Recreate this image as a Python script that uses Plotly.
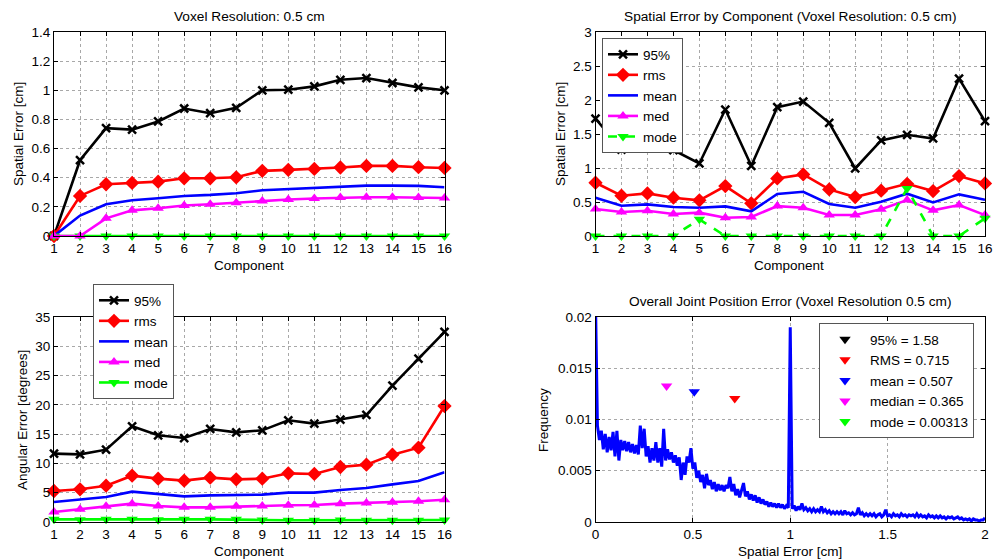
import numpy as np
import plotly.graph_objects as go

# ---------------- data ----------------
components = list(range(1, 17))

# Top-left: spatial error (cm), cumulative
tl_p95 = [0.0, 0.52, 0.74, 0.73, 0.786, 0.875, 0.843, 0.88, 1.0, 1.004, 1.027, 1.072, 1.084, 1.05, 1.02, 1.0]
tl_rms = [0.0, 0.275, 0.355, 0.364, 0.373, 0.396, 0.396, 0.403, 0.447, 0.454, 0.46, 0.47, 0.481, 0.481, 0.472, 0.467]
tl_mean = [0.0, 0.14, 0.218, 0.245, 0.259, 0.275, 0.282, 0.293, 0.314, 0.321, 0.328, 0.339, 0.346, 0.346, 0.344, 0.335]
tl_med = [0.0, 0.0, 0.121, 0.176, 0.19, 0.209, 0.218, 0.229, 0.241, 0.25, 0.257, 0.264, 0.266, 0.266, 0.264, 0.261]
tl_mode = [0.0] * 16

# Top-right: spatial error by component (cm)
tr_p95 = [1.727, 1.272, 1.321, 1.263, 1.067, 1.86, 1.033, 1.894, 1.977, 1.664, 0.993, 1.405, 1.488, 1.434, 2.315, 1.688]
tr_rms = [0.783, 0.592, 0.626, 0.563, 0.524, 0.734, 0.48, 0.847, 0.905, 0.685, 0.573, 0.666, 0.768, 0.661, 0.881, 0.773]
tr_mean = [0.563, 0.445, 0.465, 0.426, 0.416, 0.436, 0.362, 0.617, 0.651, 0.47, 0.416, 0.504, 0.622, 0.494, 0.612, 0.533]
tr_med = [0.396, 0.352, 0.372, 0.323, 0.343, 0.269, 0.279, 0.44, 0.416, 0.308, 0.308, 0.392, 0.529, 0.377, 0.455, 0.308]
tr_mode = [0.0, 0.0, 0.0, 0.0, 0.245, 0.0, 0.0, 0.0, 0.0, 0.0, 0.0, 0.0, 0.70, 0.0, 0.0, 0.26]

# Bottom-left: angular error (degrees)
bl_p95 = [11.67, 11.55, 12.35, 16.33, 14.8, 14.34, 15.88, 15.31, 15.65, 17.36, 16.79, 17.47, 18.27, 23.28, 27.89, 32.44]
bl_rms = [5.29, 5.58, 6.2, 7.91, 7.4, 7.06, 7.57, 7.28, 7.4, 8.31, 8.2, 9.39, 9.79, 11.5, 12.69, 19.8]
bl_mean = [3.41, 3.87, 4.27, 5.18, 4.72, 4.38, 4.55, 4.55, 4.67, 5.01, 5.01, 5.46, 5.8, 6.43, 7.0, 8.48]
bl_med = [1.71, 2.16, 2.67, 3.13, 2.73, 2.5, 2.5, 2.67, 2.73, 2.85, 2.9, 3.13, 3.24, 3.36, 3.53, 3.81]
bl_mode = [0.45, 0.4, 0.45, 0.45, 0.4, 0.45, 0.45, 0.45, 0.35, 0.3, 0.3, 0.35, 0.3, 0.3, 0.3, 0.35]

# Bottom-right: error distribution (bins every 0.01 cm)
hist_freq = [
    0.0215, 0.0094, 0.0080, 0.0089, 0.0071, 0.0086, 0.0068, 0.0083, 0.0070, 0.0088,
    0.0064, 0.0089, 0.0060, 0.0080, 0.0070, 0.0079, 0.0069, 0.0078, 0.0068, 0.0076,
    0.0067, 0.0075, 0.0066, 0.0094, 0.0072, 0.0091, 0.0064, 0.0074, 0.0058, 0.0072,
    0.0060, 0.0078, 0.0058, 0.0072, 0.0054, 0.0091, 0.0060, 0.0071, 0.0061, 0.0068,
    0.0058, 0.0065, 0.0055, 0.0063, 0.0041, 0.0058, 0.0046, 0.0064, 0.0058, 0.0072,
    0.0052, 0.0058, 0.0043, 0.0050, 0.0039, 0.0046, 0.0033, 0.0047, 0.0036, 0.0041,
    0.0032, 0.0039, 0.0030, 0.0037, 0.0031, 0.0036, 0.0030, 0.0036, 0.0033, 0.0044,
    0.0030, 0.0037, 0.0026, 0.0032, 0.0024, 0.0031, 0.0038, 0.0025, 0.0030, 0.0022,
    0.0027, 0.0021, 0.0026, 0.0019, 0.0024, 0.0018, 0.0022, 0.0017, 0.0020, 0.0015,
    0.0019, 0.0015, 0.0018, 0.0014, 0.0018, 0.0014, 0.0017, 0.0013, 0.0016, 0.0014,
    0.0190, 0.0013, 0.0016, 0.0011, 0.0015, 0.0012, 0.0018, 0.0012, 0.0014, 0.0011,
    0.0013, 0.0010, 0.0013, 0.0010, 0.0012, 0.0010, 0.0015, 0.0010, 0.0012, 0.0009,
    0.0011, 0.0008, 0.0010, 0.0008, 0.0010, 0.0008, 0.0010, 0.0007, 0.0011, 0.0008,
    0.0009, 0.0007, 0.0009, 0.0007, 0.0008, 0.0014, 0.0007, 0.0009, 0.0006, 0.0008,
    0.0006, 0.0008, 0.0006, 0.0008, 0.0005, 0.0007, 0.0008, 0.0005, 0.0007, 0.0012,
    0.0006, 0.0007, 0.0005, 0.0008, 0.0006, 0.0007, 0.0005, 0.0008, 0.0006, 0.0007,
    0.0005, 0.0007, 0.0006, 0.0007, 0.0005, 0.0008, 0.0005, 0.0007, 0.0005, 0.0006,
    0.0004, 0.0007, 0.0005, 0.0006, 0.0004, 0.0006, 0.0004, 0.0006, 0.0004, 0.0005,
    0.0003, 0.0005, 0.0004, 0.0005, 0.0003, 0.0004, 0.0005, 0.0003, 0.0004, 0.0002,
    0.0003, 0.0002, 0.0003, 0.0001, 0.0003, 0.0002, 0.0002, 0.0001, 0.0002, 0.0002,
    0.0004,
]
hist_x = np.round(np.arange(len(hist_freq)) * 0.01, 2)

stat_labels = ["95% = 1.58", "RMS = 0.715", "mean = 0.507", "median = 0.365", "mode = 0.00313"]
stat_x = [1.58, 0.715, 0.507, 0.365, 0.00313]
stat_y = [0.00875, 0.01206, 0.0127, 0.01326, 0.0215]
stat_colors = ["#000000", "#ff0000", "#0000ff", "#ff00ff", "#00ff00"]

series_names = ["95%", "rms", "mean", "med", "mode"]

# ---------------- figure ----------------
W, H = 995, 560
FONT = "Liberation Sans, Arial, Helvetica, sans-serif"
FS = 13.5
FS_T = 13.7

fig = go.Figure()

LW = 2.6
styles = {
    "95%": dict(color="#000000", marker=dict(symbol="x-thin-open", size=8,
                                              line=dict(color="#000000", width=2.5))),
    "rms": dict(color="#ff0000", marker=dict(symbol="diamond", size=11, color="#ff0000")),
    "mean": dict(color="#0000ff", marker=None),
    "med": dict(color="#ff00ff", marker=dict(symbol="triangle-up", size=10, color="#ff00ff")),
    "mode": dict(color="#00ff00", marker=dict(symbol="triangle-down", size=10, color="#00ff00")),
}


def add_series(name, values, xa, ya, legend=None, dash="solid", show=False):
    st = styles[name]
    mode = "lines" if st["marker"] is None else "lines+markers"
    kw = dict(x=components, y=values, name=name, mode=mode, xaxis=xa, yaxis=ya,
              line=dict(color=st["color"], width=LW, dash=dash),
              showlegend=show, cliponaxis=False)
    if st["marker"] is not None:
        kw["marker"] = st["marker"]
    if legend is not None:
        kw["legend"] = legend
    fig.add_trace(go.Scatter(**kw))


# top-left (mode drawn beneath med)
for nm, vals in [("95%", tl_p95), ("rms", tl_rms), ("mean", tl_mean), ("mode", tl_mode), ("med", tl_med)]:
    add_series(nm, vals, "x", "y")

# top-right
for nm, vals in zip(series_names, [tr_p95, tr_rms, tr_mean, tr_med, tr_mode]):
    add_series(nm, vals, "x2", "y2", legend="legend", dash="dash" if nm == "mode" else "solid", show=True)

# bottom-left
for nm, vals in zip(series_names, [bl_p95, bl_rms, bl_mean, bl_med, bl_mode]):
    add_series(nm, vals, "x3", "y3", legend="legend2", show=True)

# bottom-right histogram line
fig.add_trace(go.Scatter(x=hist_x, y=hist_freq, mode="lines", xaxis="x4", yaxis="y4",
                         line=dict(color="#0000ff", width=3), showlegend=False))
for lab, sx, sy, col in zip(stat_labels, stat_x, stat_y, stat_colors):
    fig.add_trace(go.Scatter(x=[sx], y=[sy], mode="markers", name=lab, xaxis="x4", yaxis="y4",
                             marker=dict(symbol="triangle-down", size=10, color=col),
                             showlegend=True, legend="legend3", cliponaxis=True))

# ---------------- layout ----------------
def px_x(p):
    return p / W


def px_y(p):
    return 1 - p / H


xl = [px_x(54), px_x(444.5)]
xr = [px_x(595.5), px_x(985)]
yt = [px_y(236), px_y(32)]
yb = [px_y(522), px_y(317)]

axis_common = dict(showline=True, linecolor="#000000", linewidth=1, mirror="ticks",
                   ticks="inside", ticklen=4, tickcolor="#000000", showgrid=True,
                   gridcolor="#a8a8a8", griddash="dot", gridwidth=1, zeroline=False,
                   automargin=False,
                   tickfont=dict(family=FONT, size=FS, color="#000000"))

leg_common = dict(xanchor="left", yanchor="top", bgcolor="white", bordercolor="#555555",
                  borderwidth=1, font=dict(family=FONT, size=FS), tracegroupgap=0)

layout = dict(
    width=W, height=H, margin=dict(l=0, r=0, t=0, b=0, autoexpand=False),
    paper_bgcolor="white", plot_bgcolor="white",
    font=dict(family=FONT, size=FS, color="#000000"),
    xaxis=dict(domain=xl, anchor="y", range=[1, 16], tickvals=components, **axis_common),
    yaxis=dict(domain=yt, anchor="x", range=[0, 1.4], dtick=0.2, **axis_common),
    xaxis2=dict(domain=xr, anchor="y2", range=[1, 16], tickvals=components, **axis_common),
    yaxis2=dict(domain=yt, anchor="x2", range=[0, 3], dtick=0.5, **axis_common),
    xaxis3=dict(domain=xl, anchor="y3", range=[1, 16], tickvals=components, **axis_common),
    yaxis3=dict(domain=yb, anchor="x3", range=[0, 35], dtick=5, **axis_common),
    xaxis4=dict(domain=xr, anchor="y4", range=[0, 2], dtick=0.5, **axis_common),
    yaxis4=dict(domain=yb, anchor="x4", range=[0, 0.02], dtick=0.005, **axis_common),
    legend=dict(x=px_x(602), y=px_y(38), **leg_common),
    legend2=dict(x=px_x(93), y=px_y(284), **leg_common),
    legend3=dict(x=px_x(819), y=px_y(323), itemwidth=40, **leg_common),
)

ann = []


def text(t, x, y, angle=0, size=FS):
    ann.append(dict(text=t, x=px_x(x), y=px_y(y), xref="paper", yref="paper",
                    xanchor="center", yanchor="middle", showarrow=False, textangle=angle,
                    font=dict(family=FONT, size=size, color="#000000")))


text("Voxel Resolution: 0.5 cm", 249, 16, size=FS_T)
text("Spatial Error by Component (Voxel Resolution: 0.5 cm)", 790, 16, size=FS_T)
text("Overall Joint Position Error (Voxel Resolution 0.5 cm)", 790, 301, size=FS_T)
text("Component", 249, 265)
text("Component", 789, 265)
text("Component", 249, 551)
text("Spatial Error [cm]", 790, 551)
text("Spatial Error [cm]", 18, 134, -90)
text("Spatial Error [cm]", 560, 134, -90)
text("Angular Error [degrees]", 22, 420, -90)
text("Frequency", 543, 420, -90)

layout["annotations"] = ann
fig.update_layout(**layout)

fig.write_html("out.html", config={"displayModeBar": False},
               post_script="document.body.style.margin='0';document.body.style.overflow='hidden';")
